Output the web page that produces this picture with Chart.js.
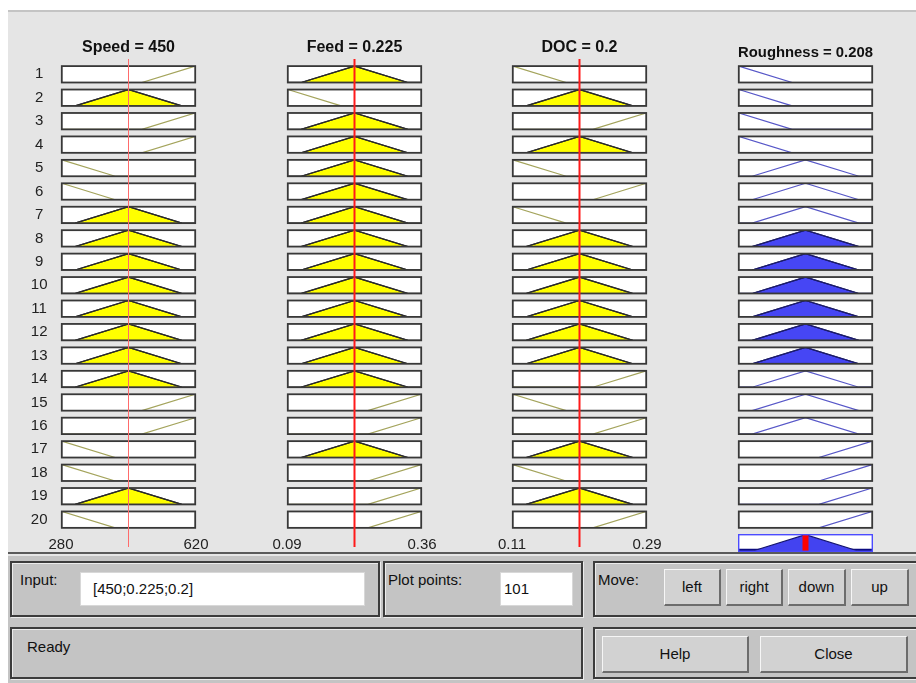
<!DOCTYPE html>
<html><head><meta charset="utf-8">
<script src="https://cdn.jsdelivr.net/npm/chart.js@4.4.1/dist/chart.umd.min.js"></script>
<style>
html,body{margin:0;padding:0}
body{width:916px;height:683px;position:relative;overflow:hidden;background:#fff;font-family:"Liberation Sans",Arial,sans-serif}
#plotArea{position:absolute;left:8px;top:10px;width:908px;height:542px;background:#e5e5e5;border-top:2px solid #c4c4c4;box-sizing:border-box}
canvas{position:absolute}
canvas.cell{z-index:1}
canvas.ovl{z-index:2}
#divider{position:absolute;left:8px;top:552px;width:908px;height:2px;background:#5a5a5a;z-index:3}
#panel{position:absolute;left:8px;top:554px;width:908px;height:129px;background:#c4c4c4;border-top:2px solid #e6e6e6;box-sizing:border-box}
.frame{position:absolute;box-sizing:border-box;border:2px solid #3c3c3c;box-shadow:inset 1px 1px 0 #ececec,1px 1px 0 #ececec}
.lbl{position:absolute;font-size:15px;color:#111;line-height:18px;white-space:nowrap}
.field{position:absolute;box-sizing:border-box;background:#fff;border:1px solid #d8d8d8;font-size:15px;color:#111;line-height:32px;padding-left:11px;white-space:nowrap}
.btn{position:absolute;box-sizing:border-box;background:#d2d2d2;border-top:1px solid #f6f6f6;border-left:1px solid #f6f6f6;border-right:2px solid #6c6c6c;border-bottom:2px solid #6c6c6c;font-size:15px;color:#111;text-align:center;white-space:nowrap}
</style></head>
<body>
<div id="plotArea"></div>
<div id="divider"></div>
<div id="panel"></div>

<div class="frame" style="left:10px;top:561px;width:370px;height:56px"></div>
<div class="lbl" style="left:20px;top:571px">Input:</div>
<div class="field" style="left:80px;top:572px;width:285px;height:34px;padding-left:12px">[450;0.225;0.2]</div>

<div class="frame" style="left:383px;top:561px;width:200px;height:56px"></div>
<div class="lbl" style="left:388px;top:571px">Plot points:</div>
<div class="field" style="left:500px;top:572px;width:73px;height:34px;padding-left:3px">101</div>

<div class="frame" style="left:593px;top:561px;width:330px;height:56px"></div>
<div class="lbl" style="left:598px;top:571px">Move:</div>
<div class="btn" style="left:664px;top:569px;width:57px;height:37px;line-height:34px">left</div>
<div class="btn" style="left:726px;top:569px;width:57px;height:37px;line-height:34px">right</div>
<div class="btn" style="left:788px;top:569px;width:58px;height:37px;line-height:34px">down</div>
<div class="btn" style="left:851px;top:569px;width:58px;height:37px;line-height:34px">up</div>

<div class="frame" style="left:10px;top:627px;width:573px;height:52px"></div>
<div class="lbl" style="left:27px;top:638px">Ready</div>

<div class="frame" style="left:593px;top:627px;width:330px;height:52px"></div>
<div class="btn" style="left:602px;top:636px;width:147px;height:37px;line-height:34px">Help</div>
<div class="btn" style="left:760px;top:636px;width:148px;height:37px;line-height:34px">Close</div>

<script>
// ================= DATA =================
const ruleNumbers = ['1','2','3','4','5','6','7','8','9','10','11','12','13','14','15','16','17','18','19','20'];
const inputNames = ['Speed', 'Feed', 'DOC'];
const outputName = 'Roughness';
const speedRange = [280, 620];
const feedRange = [0.09, 0.36];
const docRange = [0.11, 0.29];
const roughRange = [0.1, 0.316];
const inputValues = [450, 0.225, 0.2];
const outputValue = 0.208;

// triangular membership functions [a, b, c]
const speedMF = { low: [280, 280, 416], medium: [314, 450, 586], high: [484, 620, 620] };
const feedMF  = { low: [0.09, 0.09, 0.198], medium: [0.117, 0.225, 0.333], high: [0.252, 0.36, 0.36] };
const docMF   = { low: [0.11, 0.11, 0.182], medium: [0.128, 0.2, 0.272], high: [0.218, 0.29, 0.29] };
const roughMF = { low: [0.1, 0.1, 0.1864], medium: [0.1216, 0.208, 0.2944], high: [0.2296, 0.316, 0.316] };

// rule base (one entry per rule row)
const speedTerms = ['high','medium','high','high','low','low','medium','medium','medium','medium','medium','medium','medium','medium','high','high','low','low','medium','low'];
const feedTerms  = ['medium','low','medium','medium','medium','medium','medium','medium','medium','medium','medium','medium','medium','medium','high','high','medium','high','high','high'];
const docTerms   = ['low','medium','high','medium','low','high','low','medium','medium','medium','medium','medium','medium','high','low','high','medium','low','medium','high'];
const roughTerms = ['low','low','low','low','medium','medium','medium','medium','medium','medium','medium','medium','medium','medium','medium','medium','high','high','high','high'];

// ================= LAYOUT / STYLE =================
const colLeft = [61, 287, 512, 738];
const colWidth = 135;
const row0Top = 65.3, rowPitch = 23.44, boxH = 18;
const aggTop = 534;
const redLineStyle = [{color:'#ff6b6b', width:1}, {color:'#ff1a1a', width:2}, {color:'#ff1a1a', width:2}];
const FONT = '"Liberation Sans", Arial, sans-serif';
Chart.defaults.font.family = FONT;

const inputs = [
  {name: inputNames[0], range: speedRange, mf: speedMF, terms: speedTerms},
  {name: inputNames[1], range: feedRange, mf: feedMF, terms: feedTerms},
  {name: inputNames[2], range: docRange, mf: docMF, terms: docTerms}
];

function trimf(x, p) {
  const [a, b, c] = p;
  if (x < a || x > c) return 0;
  if (x <= b) return b === a ? 1 : (x - a) / (b - a);
  return c === b ? 1 : (c - x) / (c - b);
}
function mfLine(p, range) {
  const [a, b, c] = p, [lo, hi] = range, pts = [];
  if (a > lo) pts.push({x: lo, y: 0});
  pts.push({x: a, y: a === b ? 1 : 0});
  if (b !== a && b !== c) pts.push({x: b, y: 1});
  pts.push({x: c, y: c === b ? 1 : 0});
  if (c < hi) pts.push({x: hi, y: 0});
  return pts;
}
function clippedMF(p, h) {
  const [a, b, c] = p, pts = [];
  pts.push({x: a, y: a === b ? h : 0});
  if (a !== b) pts.push({x: a + h * (b - a), y: h});
  if (c !== b) pts.push({x: c - h * (c - b), y: h});
  pts.push({x: c, y: c === b ? h : 0});
  return pts;
}

// degrees & firing strengths
const degrees = inputs.map((inp, k) => inp.terms.map(t => trimf(inputValues[k], inp.mf[t])));
const firing = ruleNumbers.map((_, r) => Math.min(...degrees.map(d => d[r])));

const boxPlugin = {
  id: 'box',
  beforeDatasetsDraw(chart, args, o) {
    const {ctx, chartArea: a} = chart;
    ctx.save(); ctx.fillStyle = o.fill || '#fff';
    ctx.fillRect(a.left, a.top, a.width, a.height); ctx.restore();
  },
  afterDatasetsDraw(chart, args, o) {
    const {ctx, chartArea: a} = chart;
    ctx.save(); ctx.strokeStyle = o.color || '#3a3a3a'; ctx.lineWidth = o.width || 1.6;
    ctx.strokeRect(a.left, a.top, a.width, a.height); ctx.restore();
  }
};

function makeCanvas(left, top, w, h, cls) {
  const cv = document.createElement('canvas');
  cv.width = w; cv.height = h;
  cv.style.left = left + 'px'; cv.style.top = top + 'px';
  cv.className = cls;
  document.body.appendChild(cv);
  return cv;
}
const baseOpts = {responsive: false, animation: false, devicePixelRatio: 1, events: []};

function cellChart(left, top, w, h, range, datasets, boxOpts) {
  const pad = 3;
  const L = Math.floor(left) - pad, T = Math.floor(top) - pad;
  const cv = makeCanvas(L, T, Math.ceil(w) + 2 * pad + 2, Math.ceil(h) + 2 * pad + 2, 'cell');
  const fl = left - L, ft = top - T;
  new Chart(cv, {
    type: 'scatter',
    data: {datasets},
    options: Object.assign({}, baseOpts, {
      layout: {padding: {left: fl, top: ft, right: cv.width - fl - w, bottom: cv.height - ft - h}},
      plugins: {legend: {display: false}, tooltip: {enabled: false}, box: boxOpts},
      scales: {
        x: {type: 'linear', min: range[0], max: range[1], display: false},
        y: {type: 'linear', min: 0, max: 1, display: false}
      },
      elements: {point: {radius: 0}, line: {tension: 0}}
    }),
    plugins: [boxPlugin]
  });
}

// ---- input cells ----
inputs.forEach((inp, k) => {
  ruleNumbers.forEach((_, r) => {
    const term = inp.terms[r], p = inp.mf[term], deg = degrees[k][r];
    const ds = [{data: mfLine(p, inp.range), showLine: true, fill: false,
                 borderColor: deg > 0 ? '#2a2a2a' : '#a4a45c', borderWidth: deg > 0 ? 1.3 : 1.2}];
    if (deg > 0) ds.push({data: clippedMF(p, deg), showLine: true, fill: 'origin',
                          backgroundColor: '#ffff00', borderColor: '#2a2a2a', borderWidth: 1.2});
    cellChart(colLeft[k] + 0.8, row0Top + rowPitch * r + 0.8, colWidth - 1.6, boxH - 1.6, inp.range, ds,
              {fill: '#fff', color: '#383838', width: 1.8});
  });
});

// ---- output cells ----
ruleNumbers.forEach((_, r) => {
  const p = roughMF[roughTerms[r]], f = firing[r];
  const ds = [{data: mfLine(p, roughRange), showLine: true, fill: false,
               borderColor: f > 0 ? '#1c1c6a' : '#5757c8', borderWidth: 1.2}];
  if (f > 0) ds.push({data: clippedMF(p, f), showLine: true, fill: 'origin',
                      backgroundColor: '#4646f4', borderColor: '#1c1c6a', borderWidth: 1.2});
  cellChart(colLeft[3] + 0.8, row0Top + rowPitch * r + 0.8, colWidth - 1.6, boxH - 1.6, roughRange, ds,
            {fill: '#fff', color: '#383838', width: 1.8});
});

// ---- aggregated output ----
(function () {
  const ds = [];
  ds.push({data: [{x: outputValue, y: 0}, {x: outputValue, y: 1}], showLine: true, fill: false,
           borderColor: '#ff0000', borderWidth: 6, borderCapStyle: 'butt'});
  Object.keys(roughMF).forEach(term => {
    const h = Math.max(0, ...firing.filter((_, r) => roughTerms[r] === term));
    if (h > 0) ds.push({data: clippedMF(roughMF[term], h), showLine: true, fill: 'origin',
                        backgroundColor: '#4343f0', borderColor: '#15156e', borderWidth: 1.2});
  });
  ds.push({data: [{x: roughRange[0], y: 0}, {x: roughRange[1], y: 0}], showLine: true, fill: false,
           borderColor: '#0b0b80', borderWidth: 5});
  cellChart(colLeft[3] + 0.7, aggTop + 0.7, colWidth - 1.4, boxH - 1.4, roughRange, ds,
            {fill: '#fff', color: '#4b4bff', width: 1.4});
})();

// ---- column overlays: titles, input value lines, rule numbers ----
const ovlTop = 34, ovlH = 521, lineTop = 59, lineBottom = 547;
const rowsScaleMin = 1 - ((row0Top + boxH / 2) - lineTop) / rowPitch;
const rowsScaleMax = rowsScaleMin + (lineBottom - lineTop) / rowPitch;

inputs.forEach((inp, k) => {
  const isFirst = k === 0;
  const cv = makeCanvas(colLeft[k] - 40, ovlTop, colWidth + 80, ovlH, 'ovl');
  new Chart(cv, {
    type: 'scatter',
    data: {datasets: [{data: [{x: inputValues[k], y: 0}, {x: inputValues[k], y: 1}], showLine: true,
                       borderColor: redLineStyle[k].color, borderWidth: redLineStyle[k].width, pointRadius: 0}]},
    options: Object.assign({}, baseOpts, {
      layout: {padding: {left: isFirst ? 0 : 40, right: 40, top: 0, bottom: ovlTop + ovlH - lineBottom}},
      plugins: {
        legend: {display: false}, tooltip: {enabled: false},
        title: {display: true, fullSize: false, text: inp.name + ' = ' + inputValues[k],
                color: '#111', font: {size: 16, weight: 'bold'}, padding: {top: 4, bottom: 1.8}}
      },
      scales: {
        x: {type: 'linear', min: inp.range[0], max: inp.range[1], display: false},
        y: {type: 'linear', min: 0, max: 1, display: false},
        rows: {type: 'linear', axis: 'y', position: 'left', reverse: true, display: isFirst,
               min: rowsScaleMin, max: rowsScaleMax,
               grid: {display: false, drawTicks: false}, border: {display: false},
               ticks: {crossAlign: 'center', padding: 13.5, color: '#222', font: {size: 15},
                       callback: v => ruleNumbers[v - 1]},
               afterBuildTicks: s => { s.ticks = ruleNumbers.map((_, i) => ({value: i + 1})); },
               afterFit: s => { s.width = isFirst ? 40 : 0; s.paddingTop = 0; s.paddingBottom = 0; }}
      }
    })
  });

  // range labels (min / max of each input) on their own x axis
  const lv = makeCanvas(colLeft[k] - 40, 500, colWidth + 80, 54, 'ovl');
  new Chart(lv, {
    type: 'scatter',
    data: {datasets: []},
    options: Object.assign({}, baseOpts, {
      layout: {padding: {left: 40, right: 40, top: 0, bottom: 0}},
      plugins: {legend: {display: false}, tooltip: {enabled: false}},
      scales: {
        x: {type: 'linear', min: inp.range[0], max: inp.range[1], position: 'bottom',
            grid: {display: false, drawTicks: false}, border: {display: false},
            ticks: {padding: 0, color: '#222', font: {size: 15}, maxRotation: 0, autoSkip: false,
                    callback: v => String(v)},
            afterBuildTicks: s => { s.ticks = [{value: inp.range[0]}, {value: inp.range[1]}]; },
            afterFit: s => { s.paddingLeft = 0; s.paddingRight = 0; }},
        y: {type: 'linear', min: 0, max: 1, display: false}
      }
    })
  });
});

// output title
(function () {
  const cv = makeCanvas(colLeft[3] - 40, 39, colWidth + 80, 40, 'ovl');
  new Chart(cv, {
    type: 'scatter',
    data: {datasets: []},
    options: Object.assign({}, baseOpts, {
      layout: {padding: {left: 40, right: 40}},
      plugins: {legend: {display: false}, tooltip: {enabled: false},
                title: {display: true, fullSize: false, text: outputName + ' = ' + outputValue,
                        color: '#111', font: {size: 15.5, weight: 'bold'}, padding: {top: 4, bottom: 2}}},
      scales: {x: {type: 'linear', min: roughRange[0], max: roughRange[1], display: false},
               y: {display: false}}
    })
  });
})();
</script>
</body></html>
